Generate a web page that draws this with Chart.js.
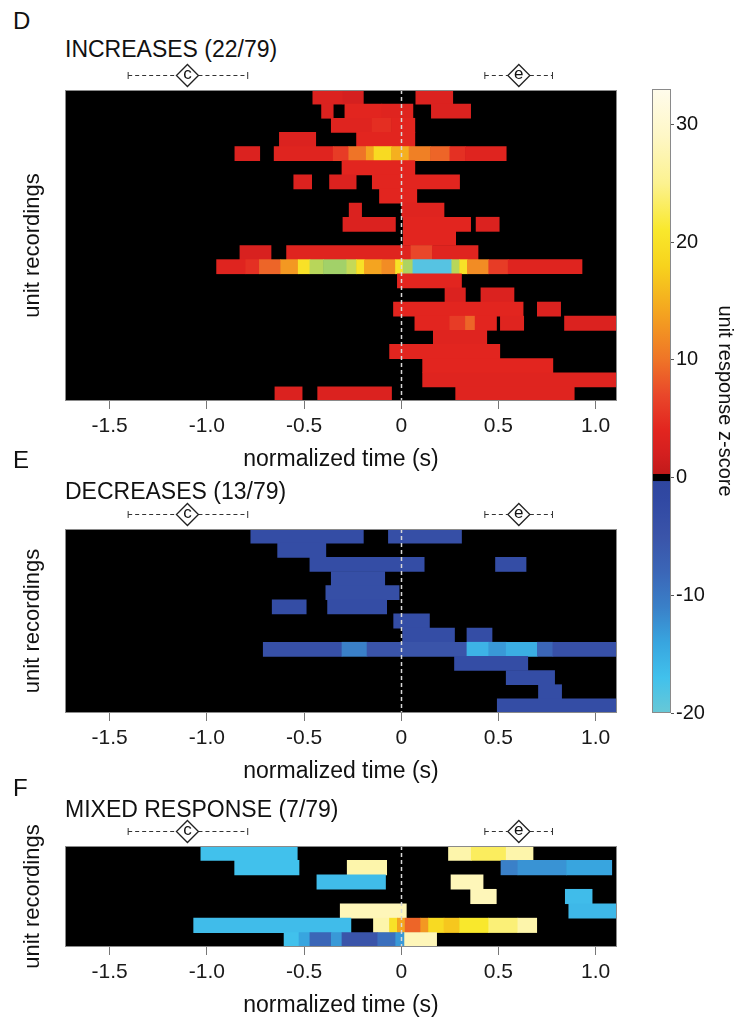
<!DOCTYPE html>
<html>
<head>
<meta charset="utf-8">
<title>Unit response heatmaps</title>
<script src="https://cdn.jsdelivr.net/npm/chart.js@4.4.1/dist/chart.umd.min.js"></script>
<style>
    html, body { margin: 0; background: #fff; }
    #fig { position: relative; width: 746px; height: 1024px; overflow: hidden;
           font-family: "Liberation Sans", Arial, sans-serif; color: #111; }
    #fig canvas { position: absolute; }
    .letter { position: absolute; left: 13px; font-size: 24px; line-height: 1; }
    .title { position: absolute; left: 65px; font-size: 23px; line-height: 1; white-space: nowrap; }
</style>
</head>
<body>
<div id="fig">
    <div class="letter" style="top:9px">D</div>
    <div class="title" style="top:38px">INCREASES (22/79)</div>
    <canvas id="chart-inc" width="640" height="413" style="left:0;top:62px"></canvas>

    <div class="letter" style="top:448px">E</div>
    <div class="title" style="top:480px">DECREASES (13/79)</div>
    <canvas id="chart-dec" width="640" height="287" style="left:0;top:500px"></canvas>

    <div class="letter" style="top:776px">F</div>
    <div class="title" style="top:798px">MIXED RESPONSE (7/79)</div>
    <canvas id="chart-mix" width="640" height="205" style="left:0;top:816px"></canvas>

    <canvas id="chart-bar" width="126" height="680" style="left:620px;top:60px"></canvas>
</div>

<script>
// axis ranges and ticks
const timeRange = [-1.73, 1.11];
const timeTicks = [-1.5, -1.0, -0.5, 0, 0.5, 1.0];
const zRange = [-20, 33];
const zTicks = [-20, -10, 0, 10, 20, 30];

// event intervals drawn above each panel (start, centre, end in s)
const intervals = [
    { label: 'c', lo: -1.405, mid: -1.10, hi: -0.79 },
    { label: 'e', lo: 0.43, mid: 0.605, hi: 0.778 }
];

// one list per unit recording: [start s, end s, z-score]
const increasesRows = [
    [[-0.455, -0.30, 3], [-0.30, -0.195, 2.2], [0.075, 0.265, 3]],
    [[-0.41, -0.35, 3], [-0.29, -0.10, 4], [-0.10, 0.06, 3.5], [0.155, 0.357, 3]],
    [[-0.36, -0.15, 3.5], [-0.15, -0.05, 4.8], [-0.05, 0.07, 4]],
    [[-0.627, -0.44, 3], [-0.23, 0.07, 4]],
    [[-0.856, -0.728, 3], [-0.654, -0.35, 3.5], [-0.35, -0.27, 6], [-0.27, -0.18, 10], [-0.18, -0.14, 14],
     [-0.14, -0.05, 19], [-0.05, 0.04, 15], [0.04, 0.15, 11], [0.15, 0.25, 9], [0.25, 0.33, 5], [0.33, 0.54, 3.5]],
    [[-0.305, 0.07, 4]],
    [[-0.553, -0.461, 3], [-0.369, -0.232, 3], [-0.149, 0.30, 4]],
    [[-0.112, 0.08, 4]],
    [[-0.268, -0.204, 3], [0.0, 0.22, 3.5]],
    [[-0.30, -0.03, 3], [0.01, 0.357, 4], [0.385, 0.504, 3]],
    [[0.01, 0.28, 4]],
    [[-0.83, -0.67, 2.5], [-0.59, 0.05, 3.5], [0.05, 0.16, 7], [0.16, 0.395, 3.5]],
    [[-0.95, -0.80, 3.5], [-0.80, -0.73, 5], [-0.73, -0.62, 9], [-0.62, -0.53, 13], [-0.53, -0.47, 20],
     [-0.47, -0.40, 36], [-0.40, -0.28, 38], [-0.28, -0.23, 35], [-0.23, -0.19, 20], [-0.19, -0.10, 14],
     [-0.10, -0.03, 12], [-0.03, 0.01, 20], [0.01, 0.06, 37], [0.06, 0.26, 46], [0.26, 0.30, 36],
     [0.30, 0.34, 20], [0.34, 0.45, 12], [0.45, 0.55, 6], [0.55, 0.93, 3.5]],
    [[-0.02, 0.31, 4]],
    [[0.225, 0.33, 3], [0.41, 0.58, 3]],
    [[-0.04, 0.627, 4], [0.70, 0.82, 3]],
    [[0.07, 0.25, 4], [0.25, 0.33, 6], [0.33, 0.38, 9], [0.38, 0.49, 4], [0.51, 0.63, 3.5], [0.84, 1.11, 3]],
    [[0.165, 0.44, 3.5]],
    [[-0.06, 0.507, 4]],
    [[0.11, 0.78, 4]],
    [[0.11, 1.11, 3.5]],
    [[-0.65, -0.51, 3], [-0.43, -0.05, 3], [0.28, 0.89, 3.5]]
];

const decreasesRows = [
    [[-0.774, -0.195, -3], [-0.066, 0.31, -3.5]],
    [[-0.636, -0.388, -3]],
    [[-0.47, 0.118, -3], [0.485, 0.642, -3]],
    [[-0.36, -0.085, -3.5]],
    [[-0.388, -0.011, -3.5]],
    [[-0.664, -0.489, -3], [-0.379, -0.075, -3]],
    [[-0.039, 0.145, -3]],
    [[0.007, 0.274, -3], [0.338, 0.467, -3]],
    [[-0.71, -0.305, -4], [-0.305, -0.176, -11], [-0.176, 0.338, -5], [0.338, 0.45, -15.5],
     [0.45, 0.54, -13], [0.54, 0.70, -15], [0.70, 0.78, -8], [0.78, 1.11, -4]],
    [[0.274, 0.651, -3]],
    [[0.54, 0.789, -3]],
    [[0.706, 0.825, -3]],
    [[0.494, 1.11, -3]]
];

const mixedRows = [
    [[-1.031, -0.535, -17], [0.243, 0.36, 27], [0.36, 0.54, 23], [0.54, 0.678, 27]],
    [[-0.857, -0.526, -17], [-0.278, -0.075, 27], [0.513, 0.60, -11], [0.60, 0.85, -12.5], [0.85, 1.083, -14]],
    [[-0.434, -0.081, -16.5], [0.256, 0.421, 28]],
    [[0.357, 0.489, 28], [0.844, 0.982, -16.5]],
    [[-0.314, 0.026, 28], [0.862, 1.11, -16]],
    [[-1.068, -0.259, -16.5], [-0.143, -0.06, 27], [-0.06, -0.02, 20], [-0.02, 0.02, 14], [0.02, 0.10, 9],
     [0.10, 0.14, 13], [0.14, 0.22, 19], [0.22, 0.30, 17], [0.30, 0.45, 21], [0.45, 0.60, 24], [0.60, 0.697, 27]],
    [[-0.603, -0.526, -17], [-0.526, -0.47, -14], [-0.47, -0.36, -8], [-0.36, -0.305, -13],
     [-0.305, -0.121, -5], [-0.121, -0.029, -9], [-0.029, 0.017, -13], [0.017, 0.182, 28]]
];

// colour map of the z-score (zero is black)
const colorStops = [
    [-20, '#68c8d6'], [-17, '#41c1ec'], [-14, '#38a5df'], [-11, '#3a80c8'], [-8, '#3b66b7'],
    [-5, '#3a54a9'], [-2, '#3149a3'], [-0.3, '#2f469f'],
    [0.3, '#c21a1a'], [2, '#d41f1f'], [4, '#e2251f'], [7, '#e9472a'], [10, '#ef7427'],
    [14, '#f4a420'], [18, '#f7d31d'], [21, '#f9e82c'], [25, '#fcf290'], [29, '#fef7c6'], [33, '#fffcec']
];
// values above the colour bar
const overStops = [[33, '#e0e050'], [36, '#b8d65a'], [40, '#8ccb78'], [46, '#56c3e2']];

Chart.defaults.font.family = '"Liberation Sans", Arial, sans-serif';
Chart.defaults.color = '#111';

function hexRgb(h) {
    return [1, 3, 5].map(i => parseInt(h.slice(i, i + 2), 16));
}

function pickColor(stops, z) {
    if (z <= stops[0][0]) return stops[0][1];
    for (let i = 1; i < stops.length; i++) {
        if (z <= stops[i][0]) {
            const [z0, c0] = stops[i - 1];
            const [z1, c1] = stops[i];
            const f = (z - z0) / (z1 - z0);
            const a = hexRgb(c0), b = hexRgb(c1);
            return `rgb(${a.map((v, k) => Math.round(v + (b[k] - v) * f)).join(',')})`;
        }
    }
    return stops[stops.length - 1][1];
}

function zColor(z) {
    if (z > -0.3 && z < 0.3) return '#000';
    return z > zRange[1] ? pickColor(overStops, z) : pickColor(colorStops, z);
}

/**
 * black background, dashed zero line, frame and event intervals
 */
const heatDecor = {
    id: 'heatDecor',
    beforeDatasetsDraw(chart) {
        const { ctx, chartArea: a } = chart;
        ctx.save();
        ctx.fillStyle = '#000';
        ctx.fillRect(a.left, a.top, a.right - a.left, a.bottom - a.top);
        ctx.restore();
    },
    afterDatasetsDraw(chart) {
        const { ctx, chartArea: a, scales: { x } } = chart;
        ctx.save();
        // zero line
        const x0 = Math.round(x.getPixelForValue(0)) + 0.5;
        ctx.strokeStyle = '#d8d8d8';
        ctx.lineWidth = 1.5;
        ctx.setLineDash([4, 3]);
        ctx.beginPath();
        ctx.moveTo(x0, a.top);
        ctx.lineTo(x0, a.bottom);
        ctx.stroke();
        ctx.setLineDash([]);
        // frame
        ctx.strokeStyle = '#8a8a8a';
        ctx.lineWidth = 1;
        ctx.strokeRect(a.left + 0.5, a.top + 0.5, a.right - a.left - 1, a.bottom - a.top - 1);

        // intervals above the plot
        const y = a.top - 14.5;
        const r = 11;
        intervals.forEach(iv => {
            const lo = x.getPixelForValue(iv.lo);
            const hi = x.getPixelForValue(iv.hi);
            const mid = x.getPixelForValue(iv.mid);
            ctx.strokeStyle = '#333';
            ctx.lineWidth = 1;
            ctx.setLineDash([4, 3]);
            ctx.beginPath();
            ctx.moveTo(lo, y); ctx.lineTo(mid - r, y);
            ctx.moveTo(mid + r, y); ctx.lineTo(hi, y);
            ctx.stroke();
            ctx.setLineDash([]);
            ctx.beginPath();
            ctx.moveTo(lo, y - 3.5); ctx.lineTo(lo, y + 3.5);
            ctx.moveTo(hi, y - 3.5); ctx.lineTo(hi, y + 3.5);
            ctx.stroke();
            ctx.beginPath();
            ctx.moveTo(mid, y - r); ctx.lineTo(mid + r, y);
            ctx.lineTo(mid, y + r); ctx.lineTo(mid - r, y);
            ctx.closePath();
            ctx.fillStyle = '#fff';
            ctx.fill();
            ctx.strokeStyle = '#222';
            ctx.lineWidth = 1.3;
            ctx.stroke();
            ctx.fillStyle = '#111';
            ctx.font = '17px "Liberation Sans", Arial, sans-serif';
            ctx.textAlign = 'center';
            ctx.textBaseline = 'middle';
            ctx.fillText(iv.label, mid, y - 1);
        });
        ctx.restore();
    }
};

/**
 * one heatmap panel: floating horizontal bars on a row category axis
 */
function buildHeatmap(canvasId, rows, topPad) {
    const labels = rows.map((_, i) => String(i + 1));
    const cells = [];
    rows.forEach((row, i) => {
        row.forEach(([start, end, z]) => cells.push({ y: labels[i], x: [start, end], z }));
    });

    return new Chart(document.getElementById(canvasId), {
        type: 'bar',
        data: {
            labels: labels,
            datasets: [{
                data: cells,
                backgroundColor: c => (c.raw ? zColor(c.raw.z) : '#000'),
                borderWidth: 0,
                barPercentage: 1,
                categoryPercentage: 1
            }]
        },
        options: {
            indexAxis: 'y',
            responsive: false,
            animation: false,
            devicePixelRatio: 1,
            layout: { padding: { left: 18, right: 23, top: topPad, bottom: 0 } },
            plugins: { legend: { display: false }, tooltip: { enabled: false } },
            scales: {
                x: {
                    type: 'linear',
                    min: timeRange[0],
                    max: timeRange[1],
                    afterBuildTicks: s => { s.ticks = timeTicks.map(v => ({ value: v })); },
                    afterFit: s => { s.height = 74; },
                    ticks: {
                        autoSkip: false, maxRotation: 0, padding: 5, color: '#1a1a1a',
                        font: { size: 21 },
                        callback: v => (v === 0 ? '0' : v.toFixed(1))
                    },
                    grid: { drawOnChartArea: false, drawTicks: true, tickLength: 8, color: '#777' },
                    border: { display: false },
                    title: {
                        display: true, text: 'normalized time (s)', color: '#111',
                        font: { size: 23 }, padding: { top: 0, bottom: 2 }
                    }
                },
                y: {
                    type: 'category',
                    afterFit: s => { s.width = 47; },
                    ticks: { display: false },
                    grid: { display: false },
                    border: { display: false },
                    title: {
                        display: true, text: 'unit recordings', color: '#111',
                        font: { size: 22 }, padding: { top: 2, bottom: 0 }
                    }
                }
            }
        },
        plugins: [heatDecor]
    });
}

/**
 * colour bar drawn as a gradient over a z-score axis
 */
const barFill = {
    id: 'barFill',
    beforeDatasetsDraw(chart) {
        const { ctx, chartArea: a, scales: { y } } = chart;
        const yLo = y.getPixelForValue(zRange[0]);
        const yHi = y.getPixelForValue(zRange[1]);
        const grad = ctx.createLinearGradient(0, yLo, 0, yHi);
        colorStops.forEach(([z, col]) => {
            grad.addColorStop((z - zRange[0]) / (zRange[1] - zRange[0]), col);
        });
        ctx.save();
        ctx.fillStyle = grad;
        ctx.fillRect(a.left, a.top, a.right - a.left, a.bottom - a.top);
        const b0 = y.getPixelForValue(0.3), b1 = y.getPixelForValue(-0.3);
        ctx.fillStyle = '#000';
        ctx.fillRect(a.left, b0, a.right - a.left, b1 - b0);
        ctx.strokeStyle = '#8a8a8a';
        ctx.lineWidth = 1;
        ctx.strokeRect(a.left + 0.5, a.top + 0.5, a.right - a.left - 1, a.bottom - a.top - 1);
        ctx.restore();
    }
};

function buildColorBar() {
    return new Chart(document.getElementById('chart-bar'), {
        type: 'scatter',
        data: { datasets: [{ data: [] }] },
        options: {
            responsive: false,
            animation: false,
            devicePixelRatio: 1,
            layout: { padding: { left: 32, right: 0, top: 29, bottom: 27 } },
            plugins: { legend: { display: false }, tooltip: { enabled: false } },
            scales: {
                x: { display: false, min: 0, max: 1 },
                y: {
                    position: 'right',
                    min: zRange[0],
                    max: zRange[1],
                    afterBuildTicks: s => { s.ticks = zTicks.map(v => ({ value: v })); },
                    afterFit: s => { s.width = 75; },
                    ticks: { padding: 2, color: '#111', font: { size: 20 } },
                    grid: { drawOnChartArea: false, drawTicks: true, tickLength: 3, color: '#555' },
                    border: { display: false },
                    title: {
                        display: true, text: 'unit response z-score', color: '#111',
                        font: { size: 20 }, padding: { top: 9, bottom: 0 }
                    }
                }
            }
        },
        plugins: [barFill]
    });
}

buildHeatmap('chart-inc', increasesRows, 28);
buildHeatmap('chart-dec', decreasesRows, 29);
buildHeatmap('chart-mix', mixedRows, 30);
buildColorBar();
</script>
</body>
</html>
